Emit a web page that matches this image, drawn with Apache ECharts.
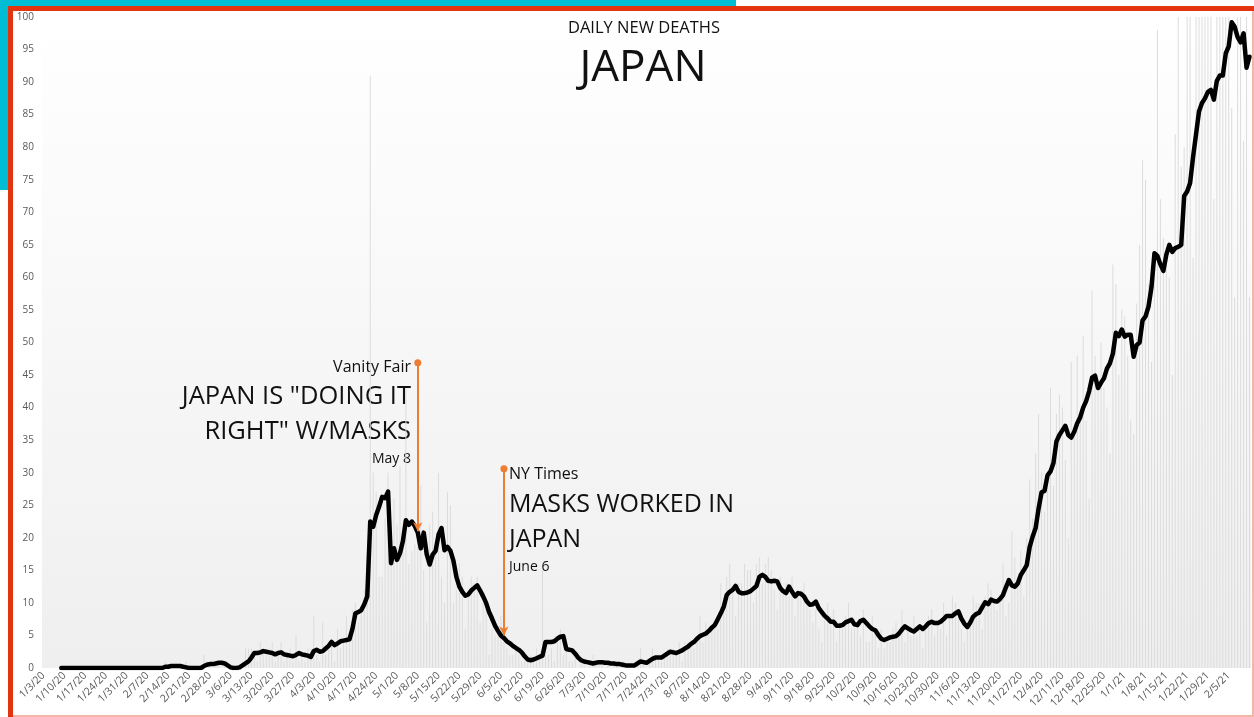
<!DOCTYPE html>
<html>
<head>
<meta charset="utf-8">
<script src="https://cdn.jsdelivr.net/npm/echarts@6/dist/echarts.min.js"></script>
<style>
  html, body { margin: 0; padding: 0; background: #fff; }
  .stage { position: relative; width: 1254px; height: 717px; overflow: hidden; }
  .cyan-top { position: absolute; left: 0; top: 0; width: 736px; height: 7px; background: #00bcd4; }
  .cyan-left { position: absolute; left: 0; top: 0; width: 8px; height: 190px; background: #00bcd4; }
  .frame { position: absolute; left: 8px; top: 6px; width: 1260px; height: 720px; box-sizing: border-box;
           border-left: 5px solid #e2350f; border-top: 5px solid #e2350f; }
  .edge-r { position: absolute; left: 1252px; top: 11px; width: 2px; height: 706px; background: #f4b6a6; }
  .edge-b { position: absolute; left: 13px; top: 715px; width: 1241px; height: 2px; background: #f4b6a6; }
  #chart { position: absolute; left: 0; top: 0; width: 1254px; height: 717px; }
</style>
</head>
<body>
<div class="stage">
  <div class="cyan-top"></div>
  <div class="cyan-left"></div>
  <div class="frame"></div>
  <div class="edge-r"></div>
  <div class="edge-b"></div>
  <div id="chart"></div>
</div>
<script>
// first day of the series and number of days shown (1/3/20 .. 2/12/21)
const startDate = [2020, 0, 3]
const dayCount = 407

// daily reported deaths, one row per week starting 1/3/20
const dailyDeaths = [
  0, 0, 0, 0, 0, 0, 0,
  0, 0, 0, 0, 0, 0, 0,
  0, 0, 0, 0, 0, 0, 0,
  0, 0, 0, 0, 0, 0, 0,
  0, 0, 0, 0, 0, 0, 0,
  0, 0, 0, 0, 0, 0, 1,
  0, 0, 0, 0, 0, 0, 1,
  0, 0, 0, 0, 0, 2, 1,
  1, 0, 1, 1, 0, 1, 0,
  0, 0, 0, 0, 1, 3, 3,
  3, 2, 1, 4, 3, 2, 3,
  4, 1, 2, 4, 1, 2, 3,
  1, 5, 1, 2, 1, 3, 3,
  8, 2, 1, 7, 2, 3, 4,
  1, 6, 3, 4, 8, 5, 9,
  10, 7, 9, 12, 17, 91, 30,
  27, 14, 14, 23, 30, 17, 26,
  22, 31, 20, 43, 16, 18, 19,
  21, 28, 15, 7, 22, 24, 18,
  30, 14, 10, 27, 25, 10, 12,
  16, 14, 6, 11, 14, 13, 14,
  7, 10, 9, 2, 6, 5, 6,
  8, 4, 3, 2, 2, 3, 2,
  1, 1, 1, 2, 1, 3, 2,
  15, 2, 2, 3, 1, 5, 6,
  2, 3, 1, 1, 2, 0, 1,
  1, 0, 1, 2, 1, 1, 1,
  0, 1, 0, 1, 1, 1, 1,
  0, 0, 0, 1, 1, 3, 1,
  0, 1, 3, 2, 2, 1, 2,
  3, 2, 3, 2, 4, 1, 4,
  4, 4, 3, 4, 8, 4, 7,
  6, 6, 7, 6, 13, 10, 14,
  16, 12, 8, 13, 13, 16, 15,
  15, 10, 16, 17, 13, 16, 17,
  15, 12, 9, 14, 12, 13, 11,
  14, 8, 12, 12, 13, 11, 9,
  7, 9, 6, 4, 8, 10, 8,
  9, 4, 7, 6, 8, 10, 6,
  6, 7, 5, 9, 4, 4, 8,
  6, 3, 6, 3, 4, 4, 6,
  7, 6, 9, 4, 6, 5, 8,
  5, 6, 3, 7, 8, 9, 5,
  7, 6, 10, 5, 8, 11, 10,
  9, 6, 4, 7, 8, 11, 10,
  10, 6, 11, 13, 12, 10, 9,
  11, 16, 8, 10, 21, 17, 14,
  18, 11, 20, 29, 23, 33, 39,
  30, 24, 28, 43, 28, 39, 42,
  40, 32, 20, 47, 36, 48, 38,
  51, 38, 26, 58, 48, 44, 50,
  43, 40, 33, 62, 59, 45, 55,
  54, 48, 38, 36, 56, 65, 78,
  75, 59, 47, 63, 98, 72, 66,
  64, 60, 45, 82, 104, 77, 80,
  110, 104, 63, 104, 110, 106, 112,
  108, 104, 72, 106, 110, 118, 104,
  112, 86, 57, 104, 108, 81, 104,
  57,
]

// rolling average line, ten days per row
const avgDeaths = [
  null, null, null, null, null, null, 0, 0, 0, 0,
  0, 0, 0, 0, 0, 0, 0, 0, 0, 0,
  0, 0, 0, 0, 0, 0, 0, 0, 0, 0,
  0, 0, 0, 0, 0, 0, 0, 0, 0, 0,
  0, 0.2, 0.2, 0.3, 0.3, 0.3, 0.3, 0.2, 0.1, 0,
  0, 0, 0, 0, 0.3, 0.5, 0.6, 0.6, 0.7, 0.8,
  0.8, 0.7, 0.4, 0.1, 0, 0, 0.1, 0.4, 0.7, 1.0,
  1.6, 2.3, 2.3, 2.4, 2.6, 2.5, 2.4, 2.3, 2.1, 2.3,
  2.4, 2.1, 2.0, 1.9, 1.8, 2.0, 2.3, 2.1, 2.0, 1.9,
  1.7, 2.6, 2.8, 2.5, 2.6, 3.0, 3.4, 4.0, 3.5, 3.8,
  4.1, 4.2, 4.3, 4.4, 6.0, 8.4, 8.6, 8.9, 9.8, 11.0,
  22.5, 21.7, 23.5, 24.8, 26.3, 26.1, 27.1, 16.1, 18.4, 16.6,
  17.6, 19.5, 22.7, 22.0, 22.5, 21.8, 20.8, 18.4, 20.8, 17.5,
  15.9, 17.4, 18.0, 20.5, 21.5, 18.1, 18.6, 18.0, 16.5, 14.0,
  12.5, 11.7, 11.1, 11.3, 11.9, 12.3, 12.7, 11.9, 11.0, 10.0,
  8.6, 7.6, 6.5, 5.7, 5.0, 4.6, 4.1, 3.8, 3.4, 3.1,
  2.8, 2.4, 1.8, 1.3, 1.2, 1.3, 1.5, 1.7, 1.9, 4.0,
  4.0, 4.0, 4.1, 4.5, 4.8, 4.9, 2.9, 2.8, 2.7, 2.2,
  1.6, 1.2, 1.0, 0.9, 0.8, 0.7, 0.8, 0.9, 0.9, 0.8,
  0.8, 0.7, 0.7, 0.6, 0.6, 0.5, 0.4, 0.4, 0.4, 0.4,
  0.7, 1.0, 0.9, 0.8, 1.1, 1.4, 1.6, 1.6, 1.6, 1.9,
  2.2, 2.5, 2.4, 2.3, 2.5, 2.7, 3.0, 3.3, 3.7, 4.0,
  4.5, 4.9, 5.1, 5.3, 5.7, 6.2, 6.6, 7.5, 8.4, 9.4,
  11.2, 11.7, 12.0, 12.6, 11.7, 11.5, 11.5, 11.6, 11.8, 12.2,
  12.6, 14.0, 14.3, 14.0, 13.4, 13.3, 13.4, 13.3, 12.3, 11.8,
  11.5, 12.5, 11.7, 11.0, 11.5, 11.4, 11.0, 10.2, 9.7, 9.8,
  10.2, 9.2, 8.6, 8.0, 7.6, 7.1, 7.1, 6.5, 6.5, 6.6,
  7.0, 7.2, 7.4, 6.7, 6.6, 7.2, 7.4, 6.9, 6.4, 6.0,
  5.8, 5.1, 4.5, 4.3, 4.5, 4.7, 4.8, 4.9, 5.3, 5.9,
  6.4, 6.1, 5.8, 5.6, 6.0, 6.4, 6.0, 6.4, 6.9, 7.1,
  6.9, 6.9, 7.1, 7.5, 8.0, 8.0, 8.0, 8.4, 8.7, 7.6,
  6.8, 6.3, 7.0, 7.9, 8.3, 8.5, 9.3, 10.1, 9.8, 10.5,
  10.3, 10.2, 10.6, 11.2, 12.4, 13.5, 12.7, 12.5, 13.0, 14.3,
  15.0, 15.8, 18.6, 20.2, 21.5, 24.5, 27.0, 27.2, 29.6, 30.2,
  31.5, 34.8, 35.8, 36.5, 37.2, 35.8, 35.4, 36.3, 37.6, 38.5,
  40.0, 41.0, 42.5, 44.6, 44.9, 43.0, 43.8, 44.5, 46.0, 46.8,
  48.3, 51.5, 51.0, 52.0, 50.9, 51.2, 51.2, 47.8, 49.6, 50.0,
  53.4, 54.0, 55.5, 58.5, 63.7, 63.3, 62.0, 61.0, 63.5, 65.0,
  63.9, 64.5, 64.7, 65.0, 72.5, 73.2, 74.5, 78.5, 82.0, 85.5,
  86.8, 87.5, 88.5, 88.8, 87.3, 90.2, 91.0, 91.0, 94.4, 95.5,
  99.2, 98.5, 96.9, 96.1, 97.5, 92.2, 93.9,
]

// y axis ticks
const yMin = 0
const yMax = 100
const yStep = 5

// weekly date labels stop at the last full week
const labelEvery = 7
const lastLabelIndex = 399

// the two press notes: [date, top of pointer, tip of pointer]
const notes = [
  ['5/8/20', 46.9, 21.0],
  ['6/6/20', 30.6, 5.0],
]

const dates = []
for (let i = 0; i < dayCount; i++) {
  const d = new Date(startDate[0], startDate[1], startDate[2] + i)
  dates.push((d.getMonth() + 1) + '/' + d.getDate() + '/' + String(d.getFullYear()).slice(2))
}

const orange = '#ed7d31'
const font = '"Open Sans", "Liberation Sans", sans-serif'

function text(x, y, str, size, align) {
  return {
    type: 'text',
    x: x,
    y: y,
    silent: true,
    style: {
      text: str,
      font: size + 'px ' + font,
      fill: '#111',
      textAlign: align,
      align: align,
      textVerticalAlign: 'middle',
      verticalAlign: 'middle',
    },
  }
}

const chart = echarts.init(document.getElementById('chart'))
chart.setOption({
  animation: false,
  grid: {
    left: 42,
    right: 3,
    top: 17,
    bottom: 49,
    show: true,
    borderWidth: 0,
    backgroundColor: new echarts.graphic.LinearGradient(0, 0, 0, 1, [
      { offset: 0, color: '#ffffff' },
      { offset: 1, color: '#efefef' },
    ]),
  },
  xAxis: {
    type: 'category',
    data: dates,
    axisLine: { show: false },
    axisTick: { show: false },
    axisLabel: {
      interval: (i) => i % labelEvery === 0 && i <= lastLabelIndex,
      rotate: 45,
      fontSize: 10.5,
      fontFamily: font,
      color: '#595959',
      margin: 6,
    },
  },
  yAxis: {
    type: 'value',
    min: yMin,
    max: yMax,
    interval: yStep,
    splitLine: { show: false },
    axisLine: { show: false },
    axisTick: { show: false },
    axisLabel: {
      fontSize: 10,
      fontFamily: font,
      color: '#595959',
      margin: 8,
    },
  },
  series: [
    {
      name: 'daily',
      type: 'bar',
      data: dailyDeaths,
      barWidth: 1,
      clip: true,
      silent: true,
      itemStyle: { color: '#dcdcdc' },
    },
    {
      name: 'average',
      type: 'line',
      data: avgDeaths,
      showSymbol: false,
      silent: true,
      lineStyle: { color: '#000', width: 4.5, join: 'round', cap: 'round' },
      markLine: {
        silent: true,
        symbol: ['circle', 'arrow'],
        symbolSize: [7, 9],
        label: { show: false },
        lineStyle: { color: orange, width: 2, type: 'solid' },
        data: notes.map(n => [
          { coord: [n[0], n[1]] },
          { coord: [n[0], n[2]] },
        ]),
      },
    },
  ],
  graphic: [
    text(644, 28, 'DAILY NEW DEATHS', 16.5, 'center'),
    text(643, 68, 'JAPAN', 44, 'center'),
    text(411, 367, 'Vanity Fair', 16, 'right'),
    text(411, 397, 'JAPAN IS "DOING IT', 25.5, 'right'),
    text(411, 432, 'RIGHT" W/MASKS', 25.5, 'right'),
    text(411, 459, 'May 8', 14, 'right'),
    text(509, 474, 'NY Times', 16, 'left'),
    text(509, 505, 'MASKS WORKED IN', 25, 'left'),
    text(509, 540, 'JAPAN', 25, 'left'),
    text(509, 567, 'June 6', 14, 'left'),
  ],
})
</script>
</body>
</html>
